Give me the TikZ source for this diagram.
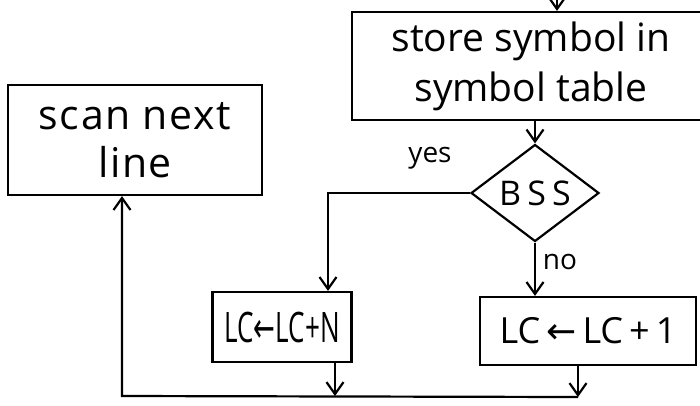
\documentclass[tikz,border=0pt]{standalone}
\usepackage{fontspec}
\setmainfont{Open Sans}
\newfontfamily\hand{Open Sans}
\newfontfamily\handwide[LetterSpace=4]{Open Sans}
\newfontfamily\handlc[FakeStretch=0.62]{Open Sans}
\newfontfamily\arrlc[FakeStretch=0.62]{DejaVu Sans}
\newfontfamily\arrone{DejaVu Sans}
\newfontfamily\handbss[LetterSpace=18]{Open Sans}
\usetikzlibrary{arrows.meta,shapes.geometric}
\begin{document}
\begin{tikzpicture}[x=1pt,y=-1pt,
  box/.style={draw, line width=2.2pt, inner sep=0pt, align=center,
    font=\hand\fontsize{39}{50}\selectfont},
  arr/.style={line width=2.2pt, -{Straight Barb[length=12pt,width=17pt]}},
  lbl/.style={font=\hand\fontsize{28}{30}\selectfont, inner sep=0pt}]
\useasboundingbox (0,0) rectangle (700,405);
\clip (0,0) rectangle (700,405);

\node[box, minimum width=358pt, minimum height=108pt] (store) at (531,66) {store symbol in\\symbol table};
\node[box, minimum width=254pt, minimum height=110pt, font=\handwide\fontsize{41}{48}\selectfont] (scan) at (135,140) {scan next\\line};
\node[diamond, draw, line width=2.2pt, minimum width=128pt, minimum height=97pt, inner sep=0pt,
  font=\handbss\fontsize{34}{36}\selectfont] (bss) at (535,193) {BSS};
\node[box, minimum width=139pt, minimum height=70pt, font=\handlc\fontsize{42}{44}\selectfont] (lcn) at (282,327) {LC{\arrlc ←}LC+N};
\node[box, minimum width=216pt, minimum height=68pt, font=\hand\fontsize{36}{40}\selectfont] (lc1) at (588,331) {LC\,{\arrone ←}\,LC\,+\,1};

\node[lbl] (yes) at (430,158) {yes};
\node[lbl] (no) at (560,262) {no};

\coordinate (top) at (557,-10);
\coordinate (j1) at (335,396);
\coordinate (j2) at (578,397);
\coordinate (corner) at (122,396);

\draw[arr] (top) -- (top |- store.north);
\draw[arr] (store.south -| bss.north) -- (bss.north);
\draw[arr] (bss.west) -| ([xshift=46pt]lcn.north);
\draw[arr] (bss.south) -- (bss.south |- lc1.north);
\draw[arr] (lcn.south -| j1) -- (j1);
\draw[arr] (lc1.south -| j2) -- (j2);
\draw[arr] (j2) -- (corner) -- (corner |- scan.south);
\end{tikzpicture}
\end{document}
